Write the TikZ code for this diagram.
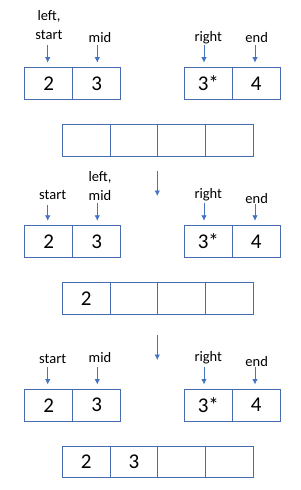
\documentclass[tikz,border=0pt]{standalone}
\usepackage{fontspec}
\setmainfont{Carlito}
\usetikzlibrary{arrows.meta}
\definecolor{cellblue}{RGB}{72,108,178}
\definecolor{arrowblue}{RGB}{68,114,196}
\begin{document}
\begin{tikzpicture}[
    x=1pt, y=-1pt,
    cell/.style={draw=cellblue, line width=0.9pt, minimum width=48pt, minimum height=31.5pt, inner sep=0pt, font=\fontsize{21}{25}\selectfont},
    wide/.style={cell, minimum width=47.75pt},
    lbl/.style={font=\fontsize{14.5}{19.3}\selectfont, align=center, anchor=south, inner sep=0pt, text depth=0pt},
    arr/.style={-{Latex[length=5.5pt,width=5.5pt]}, arrowblue, line width=0.8pt, shorten >=4.5pt},
    down/.style={-{Latex[length=5.5pt,width=5.5pt]}, arrowblue, line width=0.8pt}
]
\useasboundingbox (0,0) rectangle (300,490);

% Step 1
\node[cell] (p1l1) at (48.8, 83.3) {2};
\node[cell] (p1l2) at (96.8, 83.3) {3};
\node[cell] (p1r1) at (208.3, 83.3) {3*};
\node[cell] (p1r2) at (256.3, 83.3) {4};
\node[lbl] (p1left) at (49, 40) {left,\\start};
\node[lbl] (p1mid) at (100, 42.7) {mid};
\node[lbl] (p1right) at (208.3, 41.7) {right};
\node[lbl] (p1end) at (256.7, 42.3) {end};
\coordinate (p1a1) at (47.7, 45);
\coordinate (p1a2) at (97.3, 45);
\coordinate (p1a3) at (204, 45);
\coordinate (p1a4) at (255, 45);
\draw[arr] (p1a1) -- (p1a1 |- p1l1.north);
\draw[arr] (p1a2) -- (p1a2 |- p1l2.north);
\draw[arr] (p1a3) -- (p1a3 |- p1r1.north);
\draw[arr] (p1a4) -- (p1a4 |- p1r2.north);
% merged array
\node[wide] (p1b1) at (86.2, 140.3) {};
\node[wide] (p1b2) at (134, 140.3) {};
\node[wide] (p1b3) at (181.7, 140.3) {};
\node[wide] (p1b4) at (229.5, 140.3) {};

% Step 2
\coordinate (p2d1) at (157.3, 171);
\coordinate (p2d2) at (157.3, 196);
\draw[down] (p2d1) -- (p2d2);
\node[cell] (p2l1) at (48.8, 241.5) {2};
\node[cell] (p2l2) at (96.8, 241.5) {3};
\node[cell] (p2r1) at (208.3, 241.5) {3*};
\node[cell] (p2r2) at (256.3, 241.5) {4};
\node[lbl] (p2start) at (52.7, 199.3) {start};
\node[lbl] (p2left) at (100, 200.7) {left,\\mid};
\node[lbl] (p2right) at (208.3, 198.3) {right};
\node[lbl] (p2end) at (256.7, 203.3) {end};
\coordinate (p2a1) at (47.7, 205);
\coordinate (p2a2) at (97.3, 203.3);
\coordinate (p2a3) at (204, 203);
\coordinate (p2a4) at (255, 204.3);
\draw[arr] (p2a1) -- (p2a1 |- p2l1.north);
\draw[arr] (p2a2) -- (p2a2 |- p2l2.north);
\draw[arr] (p2a3) -- (p2a3 |- p2r1.north);
\draw[arr] (p2a4) -- (p2a4 |- p2r2.north);
% merged array
\node[wide] (p2b1) at (86.2, 298.5) {2};
\node[wide] (p2b2) at (134, 298.5) {};
\node[wide] (p2b3) at (181.7, 298.5) {};
\node[wide] (p2b4) at (229.5, 298.5) {};

% Step 3
\coordinate (p3d1) at (157.3, 335);
\coordinate (p3d2) at (157.3, 360);
\draw[down] (p3d1) -- (p3d2);
\node[cell] (p3l1) at (48.8, 405.2) {2};
\node[cell] (p3l2) at (96.8, 405.2) {3};
\node[cell] (p3r1) at (208.3, 405.2) {3*};
\node[cell] (p3r2) at (256.3, 405.2) {4};
\node[lbl] (p3start) at (52.7, 363.3) {start};
\node[lbl] (p3mid) at (100, 362.7) {mid};
\node[lbl] (p3right) at (208.3, 362) {right};
\node[lbl] (p3end) at (256.7, 366.7) {end};
\coordinate (p3a1) at (47.7, 366.7);
\coordinate (p3a2) at (97.3, 366.7);
\coordinate (p3a3) at (204, 366.7);
\coordinate (p3a4) at (255, 366.7);
\draw[arr] (p3a1) -- (p3a1 |- p3l1.north);
\draw[arr] (p3a2) -- (p3a2 |- p3l2.north);
\draw[arr] (p3a3) -- (p3a3 |- p3r1.north);
\draw[arr] (p3a4) -- (p3a4 |- p3r2.north);
% merged array
\node[wide] (p3b1) at (86.2, 461.8) {2};
\node[wide] (p3b2) at (134, 461.8) {3};
\node[wide] (p3b3) at (181.7, 461.8) {};
\node[wide] (p3b4) at (229.5, 461.8) {};
\end{tikzpicture}
\end{document}
